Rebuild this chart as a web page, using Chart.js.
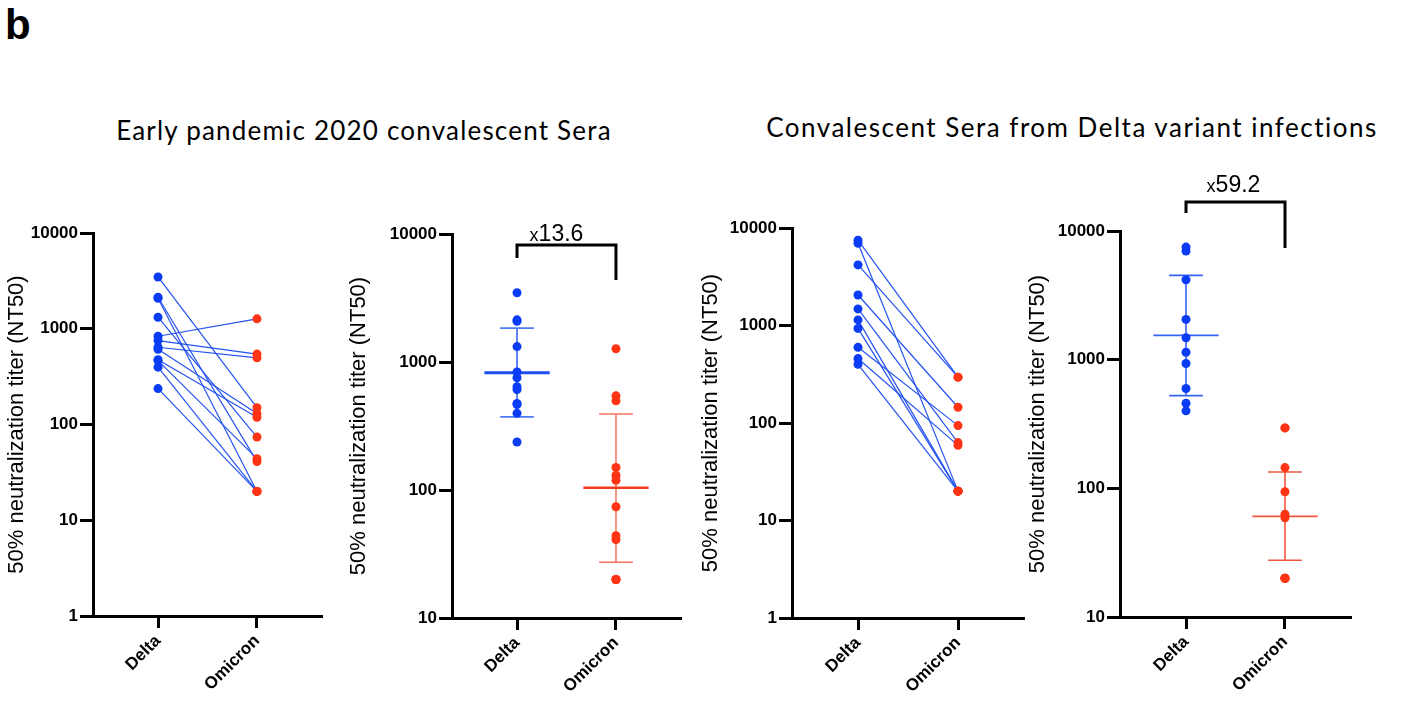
<!DOCTYPE html>
<html>
<head>
<meta charset="utf-8">
<script src="https://cdn.jsdelivr.net/npm/chart.js@4.4.1/dist/chart.umd.min.js"></script>
<style>
  html, body { margin: 0; padding: 0; background: #fff; }
  body { width: 1411px; height: 705px; position: relative; overflow: hidden; font-family: "Liberation Sans", Arial, sans-serif; color: #000; }
  canvas { position: absolute; }
  .letter { position: absolute; left: 5px; top: 4px; font-size: 42px; line-height: 42px; font-weight: bold; }
  .title { position: absolute; width: 800px; text-align: center; font-family: Lato, sans-serif; font-size: 26px; line-height: 26px; white-space: nowrap; }
</style>
</head>
<body>
<div class="letter">b</div>
<div class="title" style="left:-36px; top:117px; letter-spacing:1.2px">Early pandemic 2020 convalescent Sera</div>
<div class="title" style="left:672px; top:114px; letter-spacing:1.5px">Convalescent Sera from Delta variant infections</div>
<canvas id="p1" width="340" height="505" style="left:0px; top:200px"></canvas>
<canvas id="p2" width="360" height="515" style="left:340px; top:190px"></canvas>
<canvas id="p3" width="350" height="515" style="left:690px; top:190px"></canvas>
<canvas id="p4" width="355" height="555" style="left:1015px; top:150px"></canvas>
<script>
const groups = ['Delta', 'Omicron'];
const ticksFrom1 = [1, 10, 100, 1000, 10000];
const ticksFrom10 = [10, 100, 1000, 10000];

// early pandemic 2020 sera, one entry per donor (Delta -> Omicron)
const earlyDelta   = [3475, 2135, 2080, 1320, 835, 753, 641, 610, 475, 465, 397, 237];
const earlyOmicron = [150, 41, 20, 74, 1270, 544, 497, 130, 119, 44, 20, 20];
const earlyMean  = [824, 104];
const earlyUpper = [1836, 392];
const earlyLower = [373, 27.3];
const earlyFold = '13.6';

// sera from Delta variant infections
const deltaInfDelta   = [7500, 6980, 4180, 2056, 1480, 1142, 934, 597, 458, 400];
const deltaInfOmicron = [295, 20, 295, 145, 63, 20, 20, 94, 59, 20];
const deltaInfMean  = [1545, 60.6];
const deltaInfUpper = [4520, 134];
const deltaInfLower = [525, 27.6];
const deltaInfFold = '59.2';

const BLUE = '#0a3cf6';
const RED = '#ff3414';
const FONT = '"Liberation Sans", Arial, sans-serif';

// bracket with fold change above the two groups
const foldBracket = {
  id: 'foldBracket',
  afterDraw(chart, args, o) {
    if (!o.label) return;
    const { ctx, chartArea: { top }, scales: { x } } = chart;
    const x1 = x.getPixelForValue(1), x2 = x.getPixelForValue(2);
    ctx.save();
    ctx.strokeStyle = '#000';
    ctx.lineWidth = 3;
    ctx.lineJoin = 'miter';
    ctx.beginPath();
    ctx.moveTo(x1, top + o.leftEnd);
    ctx.lineTo(x1, top + o.bar);
    ctx.lineTo(x2, top + o.bar);
    ctx.lineTo(x2, top + o.rightEnd);
    ctx.stroke();
    ctx.fillStyle = '#000';
    ctx.textBaseline = 'alphabetic';
    ctx.textAlign = 'left';
    ctx.font = '18px ' + FONT;
    const wx = ctx.measureText('x').width;
    ctx.font = '23px ' + FONT;
    const wn = ctx.measureText(o.label).width;
    let sx = (x1 + x2) / 2 + o.dx - (wx + wn) / 2;
    const y = top + o.text;
    ctx.font = '18px ' + FONT;
    ctx.fillText('x', sx, y);
    ctx.font = '23px ' + FONT;
    ctx.fillText(o.label, sx + wx, y);
    ctx.restore();
  }
};

function points(c, values, color) {
  return {
    data: values.map(v => ({ x: c, y: v })),
    backgroundColor: color, borderWidth: 0, pointRadius: 4.5, order: 0
  };
}

function segment(a, b, color, width) {
  return { data: [a, b], showLine: true, borderColor: color, borderWidth: width, pointRadius: 0, order: 1 };
}

// geometric mean with SD whiskers
function meanBars(c, mean, lo, hi, color, light, meanW, barW) {
  return [
    segment({ x: c - 0.33, y: mean }, { x: c + 0.33, y: mean }, color, meanW),
    segment({ x: c, y: lo }, { x: c, y: hi }, light, barW),
    segment({ x: c - 0.17, y: hi }, { x: c + 0.17, y: hi }, light, barW),
    segment({ x: c - 0.17, y: lo }, { x: c + 0.17, y: lo }, light, barW)
  ];
}

function makeChart(id, cfg) {
  return new Chart(document.getElementById(id), {
    type: 'scatter',
    data: { datasets: cfg.datasets },
    plugins: [foldBracket],
    options: {
      responsive: false,
      animation: false,
      events: [],
      layout: { padding: cfg.padding },
      plugins: { legend: { display: false }, tooltip: { enabled: false }, foldBracket: cfg.bracket || {} },
      scales: {
        x: {
          type: 'linear', min: cfg.xMin, max: cfg.xMax,
          afterBuildTicks: s => { s.ticks = [{ value: 1 }, { value: 2 }]; },
          afterFit: s => { s.height = cfg.xH; },
          ticks: {
            autoSkip: false, minRotation: 45, maxRotation: 45, padding: 3, color: '#000',
            font: { family: FONT, size: 17, weight: 'bold' },
            callback: v => groups[v - 1]
          },
          grid: { drawOnChartArea: false, drawTicks: true, tickLength: 12, tickWidth: 3, tickColor: '#000' },
          border: { display: true, color: '#000', width: 3 }
        },
        y: {
          type: 'logarithmic', min: cfg.yTicks[0], max: 10000,
          afterBuildTicks: s => { s.ticks = cfg.yTicks.map(v => ({ value: v })); },
          afterFit: s => { s.width = cfg.yW; },
          ticks: { padding: 2, color: '#000', font: { family: FONT, size: 17, weight: 'bold' }, callback: v => String(v) },
          grid: { drawOnChartArea: false, drawTicks: true, tickLength: 13, tickWidth: 3, tickColor: '#000' },
          border: { display: true, color: '#000', width: 3 },
          title: {
            display: true, text: '50% neutralization titer (NT50)', color: '#000',
            font: { family: FONT, size: 22 }, padding: { top: cfg.titlePad, bottom: 0 }
          }
        }
      }
    }
  });
}

function pairLines(delta, omicron) {
  return delta.map((d, i) => segment({ x: 1, y: d }, { x: 2, y: omicron[i] }, '#2452f0', 1.2));
}

makeChart('p1', {
  padding: { left: 0, top: 33, right: 18, bottom: 0 }, yW: 93, xH: 89, titlePad: 4,
  xMin: 0.343, xMax: 2.657, yTicks: ticksFrom1,
  datasets: [points(1, earlyDelta, BLUE), points(2, earlyOmicron, RED), ...pairLines(earlyDelta, earlyOmicron)]
});

makeChart('p2', {
  padding: { left: 0, top: 44, right: 19, bottom: 0 }, yW: 112, xH: 87, titlePad: 6,
  xMin: 0.343, xMax: 2.657, yTicks: ticksFrom10,
  bracket: { label: earlyFold, bar: 11, leftEnd: 24, rightEnd: 46, text: 7, dx: -10 },
  datasets: [
    points(1, earlyDelta, BLUE), points(2, earlyOmicron, RED),
    ...meanBars(1, earlyMean[0], earlyLower[0], earlyUpper[0], '#1f4ff3', '#4f78f5', 3, 1.8),
    ...meanBars(2, earlyMean[1], earlyLower[1], earlyUpper[1], '#f43a1e', '#f5735e', 2.5, 1.5)
  ]
});

makeChart('p3', {
  padding: { left: 0, top: 38, right: 16, bottom: 0 }, yW: 102, xH: 87, titlePad: 8,
  xMin: 0.34, xMax: 2.66, yTicks: ticksFrom1,
  datasets: [points(1, deltaInfDelta, BLUE), points(2, deltaInfOmicron, RED), ...pairLines(deltaInfDelta, deltaInfOmicron)]
});

makeChart('p4', {
  padding: { left: 0, top: 81, right: 19, bottom: 0 }, yW: 105, xH: 88, titlePad: 10,
  xMin: 0.333, xMax: 2.667, yTicks: ticksFrom10,
  bracket: { label: deltaInfFold, bar: -29, leftEnd: -18, rightEnd: 17, text: -39, dx: -2 },
  datasets: [
    points(1, deltaInfDelta, BLUE), points(2, deltaInfOmicron, RED),
    ...meanBars(1, deltaInfMean[0], deltaInfLower[0], deltaInfUpper[0], '#3563f4', '#3563f4', 1.8, 1.6),
    ...meanBars(2, deltaInfMean[1], deltaInfLower[1], deltaInfUpper[1], '#f2553f', '#f2553f', 1.8, 1.6)
  ]
});
</script>
</body>
</html>
